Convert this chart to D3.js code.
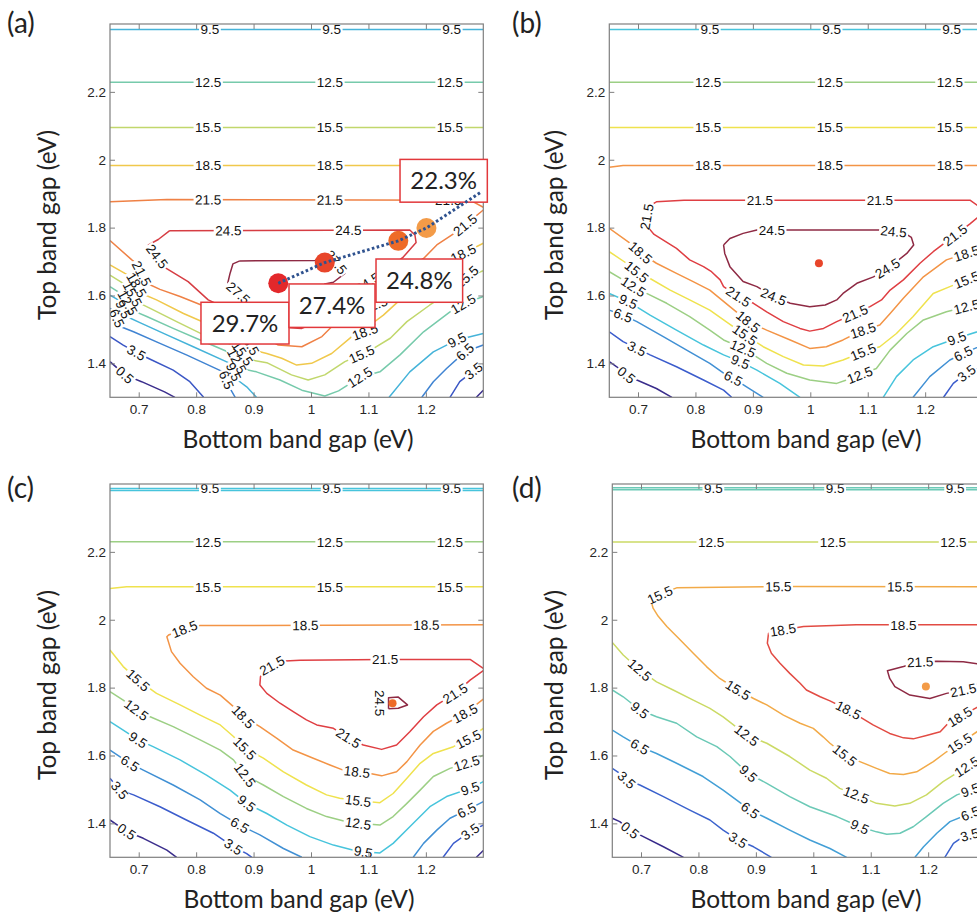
<!DOCTYPE html>
<html>
<head>
<meta charset="utf-8">
<script src="https://cdn.jsdelivr.net/npm/d3@7"></script>
<style>
    body { margin: 0; background: #fff; }
    text { font-family: "Liberation Sans", Arial, sans-serif; }
    .big { font-family: Lato, "Open Sans", sans-serif; }
</style>
</head>
<body>
<svg id="chart" width="977" height="913"></svg>
<script>
// ---- data (eV / %) ----
var xTicks = [0.7, 0.8, 0.9, 1, 1.1, 1.2];
var yTicks = [1.4, 1.6, 1.8, 2, 2.2];

var levelsA = [0.5, 3.5, 6.5, 9.5, 12.5, 15.5, 18.5, 21.5, 24.5, 27.5];
var levelsB = [0.5, 3.5, 6.5, 9.5, 12.5, 15.5, 18.5, 21.5, 24.5];
var levelsC = [0.5, 3.5, 6.5, 9.5, 12.5, 15.5, 18.5, 21.5, 24.5];
var levelsD = [0.5, 3.5, 6.5, 9.5, 12.5, 15.5, 18.5, 21.5];

var contoursA = [
    [9.5, [[0.65, 2.384], [1.30, 2.384]]],
    [12.5, [[0.65, 2.228], [1.30, 2.228]]],
    [15.5, [[0.65, 2.095], [1.30, 2.095]]],
    [18.5, [[0.65, 1.983], [1.30, 1.983]]],
    [21.5, [[0.65, 1.876], [0.749, 1.883], [1.277, 1.881], [1.30, 1.860]]],
    [21.5, [[0.65, 1.762], [0.688, 1.705], [0.696, 1.695], [0.714, 1.636], [0.737, 1.618], [0.772, 1.597], [0.809, 1.572], [0.865, 1.528], [0.900, 1.498], [0.917, 1.479], [0.943, 1.454], [0.984, 1.449], [1.019, 1.479], [1.036, 1.508], [1.074, 1.547], [1.111, 1.572], [1.143, 1.616], [1.172, 1.685], [1.196, 1.709], [1.219, 1.749], [1.254, 1.788], [1.30, 1.852]]],
    [24.5, [[0.754, 1.791], [1.172, 1.793], [1.181, 1.778], [1.183, 1.756], [1.161, 1.714], [1.140, 1.685], [1.114, 1.655], [1.097, 1.636], [1.074, 1.606], [1.039, 1.557], [1.010, 1.520], [0.984, 1.503], [0.963, 1.505], [0.917, 1.523], [0.865, 1.552], [0.821, 1.587], [0.786, 1.641], [0.748, 1.680], [0.717, 1.749], [0.734, 1.765], [0.754, 1.791]]],
    [27.5, [[0.876, 1.702], [1.007, 1.703], [1.024, 1.722], [1.039, 1.709], [1.059, 1.665], [1.039, 1.639], [1.024, 1.634], [1.004, 1.587], [0.984, 1.538], [0.958, 1.533], [0.923, 1.552], [0.890, 1.582], [0.855, 1.636], [0.859, 1.665], [0.864, 1.693], [0.876, 1.702]]],
    [18.5, [[0.65, 1.690], [0.676, 1.665], [0.688, 1.655], [0.705, 1.606], [0.731, 1.587], [0.778, 1.547], [0.824, 1.513], [0.885, 1.484], [0.900, 1.439], [0.923, 1.429], [0.949, 1.415], [0.975, 1.395], [1.001, 1.400], [1.036, 1.429], [1.071, 1.479], [1.094, 1.493], [1.103, 1.513], [1.126, 1.542], [1.155, 1.587], [1.196, 1.641], [1.230, 1.695], [1.265, 1.724], [1.30, 1.754]]],
    [15.5, [[0.65, 1.660], [0.673, 1.636], [0.682, 1.628], [0.696, 1.582], [0.720, 1.562], [0.766, 1.523], [0.813, 1.484], [0.873, 1.449], [0.888, 1.412], [0.923, 1.402], [0.966, 1.366], [0.995, 1.351], [1.024, 1.366], [1.059, 1.405], [1.088, 1.427], [1.109, 1.444], [1.138, 1.474], [1.167, 1.523], [1.207, 1.572], [1.242, 1.611], [1.271, 1.655], [1.30, 1.673]]],
    [12.5, [[0.65, 1.626], [0.667, 1.608], [0.674, 1.600], [0.688, 1.557], [0.714, 1.538], [0.760, 1.503], [0.807, 1.469], [0.865, 1.427], [0.878, 1.385], [0.905, 1.375], [0.946, 1.351], [0.984, 1.321], [1.024, 1.304], [1.048, 1.319], [1.085, 1.359], [1.120, 1.375], [1.155, 1.425], [1.196, 1.493], [1.242, 1.552], [1.265, 1.575], [1.30, 1.597]]],
    [9.5, [[0.65, 1.601], [0.662, 1.589], [0.667, 1.582], [0.679, 1.538], [0.702, 1.520], [0.749, 1.484], [0.795, 1.449], [0.859, 1.400], [0.872, 1.351], [0.888, 1.331], [0.905, 1.300]]],
    [9.5, [[1.136, 1.300], [1.172, 1.375], [1.213, 1.434], [1.254, 1.469], [1.30, 1.488]]],
    [6.5, [[0.65, 1.562], [0.656, 1.555], [0.669, 1.508], [0.691, 1.493], [0.737, 1.459], [0.783, 1.425], [0.847, 1.375], [0.859, 1.326], [0.868, 1.300]]],
    [6.5, [[1.193, 1.300], [1.213, 1.346], [1.236, 1.385], [1.268, 1.434], [1.30, 1.454]]],
    [3.5, [[0.65, 1.479], [0.673, 1.454], [0.696, 1.432], [0.720, 1.412], [0.760, 1.380], [0.789, 1.346], [0.813, 1.300]]],
    [3.5, [[1.242, 1.300], [1.259, 1.346], [1.283, 1.378], [1.30, 1.395]]],
    [0.5, [[0.65, 1.405], [0.676, 1.366], [0.705, 1.346], [0.745, 1.316], [0.763, 1.300]]],
    [0.5, [[1.288, 1.300], [1.30, 1.321]]]
];

var labelsA = [
    [9.5, 0.824, 2.384], [9.5, 1.036, 2.384], [9.5, 1.245, 2.384],
    [12.5, 0.821, 2.228], [12.5, 1.033, 2.228], [12.5, 1.242, 2.228],
    [15.5, 0.821, 2.095], [15.5, 1.033, 2.095], [15.5, 1.242, 2.095],
    [18.5, 0.821, 1.983], [18.5, 1.033, 1.983], [18.5, 1.242, 1.983],
    [21.5, 0.821, 1.883], [21.5, 1.033, 1.883], [21.5, 1.239, 1.881],
    [21.5, 1.268, 1.808], [21.5, 0.705, 1.665], [21.5, 1.111, 1.572],
    [24.5, 0.856, 1.793], [24.5, 1.065, 1.793], [24.5, 0.731, 1.714], [24.5, 1.097, 1.641],
    [27.5, 0.870, 1.601], [27.5, 1.045, 1.700],
    [18.5, 0.696, 1.631], [18.5, 0.893, 1.461], [18.5, 1.094, 1.493], [18.5, 1.265, 1.724],
    [15.5, 0.689, 1.604], [15.5, 0.881, 1.430], [15.5, 1.088, 1.427], [15.5, 1.271, 1.655],
    [12.5, 0.681, 1.579], [12.5, 0.871, 1.407], [12.5, 1.085, 1.359], [12.5, 1.265, 1.575],
    [9.5, 0.673, 1.559], [9.5, 0.865, 1.375], [9.5, 1.254, 1.469],
    [6.5, 0.661, 1.532], [6.5, 0.853, 1.351], [6.5, 1.268, 1.434],
    [3.5, 0.696, 1.432], [3.5, 1.283, 1.378],
    [0.5, 0.676, 1.366]
];

var contoursB = [
    [9.5, [[0.65, 2.384], [1.30, 2.384]]],
    [12.5, [[0.65, 2.228], [1.30, 2.228]]],
    [15.5, [[0.65, 2.095], [1.30, 2.095]]],
    [18.5, [[0.65, 1.978], [0.674, 1.983], [1.30, 1.983]]],
    [21.5, [[1.30, 1.855], [1.278, 1.881], [1.0, 1.881], [0.78, 1.881], [0.732, 1.876], [0.718, 1.862], [0.715, 1.832], [0.718, 1.80], [0.728, 1.78], [0.744, 1.763], [0.767, 1.739], [0.790, 1.705], [0.814, 1.685], [0.828, 1.670], [0.843, 1.646], [0.849, 1.626], [0.875, 1.597], [0.901, 1.577], [0.924, 1.552], [0.953, 1.523], [0.982, 1.503], [0.999, 1.495], [1.023, 1.503], [1.046, 1.523], [1.078, 1.547], [1.104, 1.567], [1.124, 1.587], [1.139, 1.616], [1.162, 1.646], [1.191, 1.695], [1.214, 1.729], [1.252, 1.778], [1.278, 1.811], [1.30, 1.842]]],
    [24.5, [[0.849, 1.749], [0.860, 1.768], [0.883, 1.783], [0.907, 1.793], [1.121, 1.793], [1.162, 1.786], [1.176, 1.771], [1.180, 1.749], [1.168, 1.724], [1.139, 1.685], [1.110, 1.655], [1.081, 1.636], [1.057, 1.606], [1.046, 1.587], [1.026, 1.572], [0.999, 1.567], [0.965, 1.577], [0.936, 1.597], [0.907, 1.626], [0.883, 1.641], [0.860, 1.685], [0.851, 1.724], [0.849, 1.749]]],
    [18.5, [[0.65, 1.798], [0.686, 1.754], [0.706, 1.724], [0.732, 1.695], [0.767, 1.665], [0.796, 1.641], [0.825, 1.616], [0.860, 1.567], [0.892, 1.523], [0.924, 1.498], [0.965, 1.469], [0.999, 1.444], [1.028, 1.449], [1.057, 1.469], [1.089, 1.496], [1.121, 1.513], [1.139, 1.547], [1.162, 1.592], [1.197, 1.655], [1.237, 1.705], [1.272, 1.724], [1.30, 1.749]]],
    [15.5, [[0.65, 1.729], [0.680, 1.695], [0.698, 1.670], [0.721, 1.650], [0.756, 1.616], [0.790, 1.587], [0.825, 1.557], [0.849, 1.528], [0.886, 1.484], [0.918, 1.449], [0.953, 1.420], [0.988, 1.395], [1.023, 1.392], [1.057, 1.410], [1.092, 1.434], [1.121, 1.449], [1.150, 1.488], [1.179, 1.538], [1.214, 1.606], [1.243, 1.626], [1.272, 1.646], [1.30, 1.673]]],
    [12.5, [[0.65, 1.670], [0.674, 1.646], [0.692, 1.626], [0.715, 1.606], [0.750, 1.577], [0.790, 1.538], [0.825, 1.498], [0.849, 1.469], [0.883, 1.444], [0.924, 1.400], [0.959, 1.371], [0.999, 1.351], [1.046, 1.341], [1.063, 1.351], [1.086, 1.366], [1.115, 1.385], [1.139, 1.439], [1.168, 1.488], [1.197, 1.528], [1.237, 1.552], [1.272, 1.567], [1.30, 1.592]]],
    [9.5, [[0.65, 1.606], [0.683, 1.582], [0.721, 1.542], [0.767, 1.498], [0.814, 1.454], [0.849, 1.425], [0.878, 1.405], [0.907, 1.380], [0.947, 1.341], [0.982, 1.300]]],
    [9.5, [[1.127, 1.300], [1.150, 1.361], [1.179, 1.410], [1.214, 1.449], [1.255, 1.474], [1.30, 1.498]]],
    [6.5, [[0.65, 1.557], [0.674, 1.542], [0.698, 1.523], [0.744, 1.479], [0.790, 1.434], [0.825, 1.400], [0.849, 1.371], [0.866, 1.356], [0.889, 1.331], [0.918, 1.300]]],
    [6.5, [[1.179, 1.300], [1.208, 1.361], [1.243, 1.410], [1.266, 1.429], [1.30, 1.454]]],
    [3.5, [[0.65, 1.493], [0.674, 1.464], [0.698, 1.444], [0.721, 1.425], [0.767, 1.390], [0.814, 1.351], [0.849, 1.321], [0.863, 1.300]]],
    [3.5, [[1.232, 1.300], [1.249, 1.341], [1.272, 1.371], [1.30, 1.390]]],
    [0.5, [[0.65, 1.405], [0.663, 1.390], [0.680, 1.366], [0.698, 1.351], [0.732, 1.326], [0.759, 1.300]]]
];

var labelsB = [
    [9.5, 0.825, 2.384], [9.5, 1.037, 2.384], [9.5, 1.246, 2.384],
    [12.5, 0.822, 2.228], [12.5, 1.034, 2.228], [12.5, 1.243, 2.228],
    [15.5, 0.822, 2.095], [15.5, 1.034, 2.095], [15.5, 1.243, 2.095],
    [18.5, 0.822, 1.983], [18.5, 1.034, 1.983], [18.5, 1.243, 1.983],
    [21.5, 0.912, 1.881], [21.5, 1.121, 1.881], [21.5, 0.715, 1.832],
    [24.5, 0.933, 1.791], [24.5, 1.145, 1.786], [24.5, 1.136, 1.675], [24.5, 0.936, 1.597],
    [18.5, 0.703, 1.724], [15.5, 0.698, 1.670], [12.5, 0.692, 1.626], [9.5, 0.683, 1.582], [6.5, 0.674, 1.542], [3.5, 0.698, 1.444], [0.5, 0.680, 1.366],
    [21.5, 0.875, 1.597], [18.5, 0.892, 1.523], [15.5, 0.886, 1.484], [12.5, 0.883, 1.444], [9.5, 0.878, 1.405], [6.5, 0.866, 1.356],
    [21.5, 1.078, 1.547], [18.5, 1.092, 1.496], [15.5, 1.092, 1.434], [12.5, 1.086, 1.366],
    [21.5, 1.252, 1.778], [18.5, 1.272, 1.724], [15.5, 1.272, 1.646], [12.5, 1.272, 1.567], [9.5, 1.255, 1.474], [6.5, 1.266, 1.429], [3.5, 1.272, 1.371]
];

var contoursC = [
    [9.5, [[0.65, 2.387], [1.30, 2.387]]],
    [9.5, [[0.65, 2.381], [1.30, 2.381]]],
    [12.5, [[0.65, 2.230], [1.30, 2.230]]],
    [15.5, [[0.65, 2.092], [0.679, 2.097], [1.30, 2.097]]],
    [18.5, [[1.30, 1.985], [0.807, 1.983], [0.783, 1.975], [0.752, 1.955], [0.749, 1.950], [0.757, 1.906], [0.772, 1.872], [0.795, 1.832], [0.818, 1.798], [0.842, 1.778], [0.865, 1.744], [0.882, 1.714], [0.911, 1.685], [0.940, 1.651], [0.969, 1.616], [1.004, 1.592], [1.033, 1.572], [1.056, 1.557], [1.080, 1.552], [1.103, 1.547], [1.123, 1.540], [1.149, 1.552], [1.167, 1.582], [1.190, 1.631], [1.213, 1.671], [1.236, 1.695], [1.268, 1.724], [1.30, 1.766]]],
    [21.5, [[1.30, 1.857], [1.277, 1.883], [1.126, 1.883], [0.981, 1.881], [0.946, 1.878], [0.923, 1.857], [0.912, 1.832], [0.911, 1.808], [0.923, 1.783], [0.946, 1.754], [0.969, 1.729], [0.992, 1.705], [1.010, 1.690], [1.039, 1.680], [1.065, 1.652], [1.091, 1.631], [1.123, 1.618], [1.149, 1.631], [1.172, 1.670], [1.196, 1.714], [1.219, 1.749], [1.251, 1.783], [1.277, 1.822], [1.30, 1.850]]],
    [24.5, [[1.135, 1.738], [1.135, 1.770], [1.152, 1.772], [1.168, 1.749], [1.152, 1.739], [1.135, 1.738]]],
    [15.5, [[0.65, 1.911], [0.673, 1.862], [0.699, 1.822], [0.731, 1.783], [0.772, 1.749], [0.807, 1.719], [0.842, 1.690], [0.865, 1.656], [0.885, 1.621], [0.917, 1.592], [0.952, 1.552], [0.992, 1.513], [1.027, 1.484], [1.050, 1.474], [1.082, 1.467], [1.120, 1.461], [1.143, 1.488], [1.167, 1.533], [1.190, 1.577], [1.213, 1.606], [1.248, 1.626], [1.274, 1.648], [1.30, 1.680]]],
    [12.5, [[0.65, 1.788], [0.673, 1.763], [0.696, 1.734], [0.720, 1.714], [0.760, 1.685], [0.807, 1.646], [0.842, 1.616], [0.865, 1.587], [0.885, 1.542], [0.917, 1.513], [0.952, 1.479], [0.992, 1.444], [1.027, 1.420], [1.062, 1.405], [1.082, 1.400], [1.120, 1.395], [1.143, 1.420], [1.167, 1.459], [1.190, 1.498], [1.213, 1.538], [1.242, 1.562], [1.271, 1.577], [1.30, 1.601]]],
    [9.5, [[0.65, 1.700], [0.673, 1.675], [0.699, 1.646], [0.725, 1.626], [0.772, 1.587], [0.818, 1.542], [0.859, 1.498], [0.888, 1.459], [0.923, 1.429], [0.958, 1.395], [0.998, 1.361], [1.039, 1.336], [1.074, 1.321], [1.091, 1.316], [1.120, 1.313], [1.143, 1.341], [1.172, 1.390], [1.207, 1.449], [1.236, 1.479], [1.277, 1.503], [1.30, 1.523]]],
    [6.5, [[0.65, 1.616], [0.667, 1.597], [0.685, 1.577], [0.708, 1.557], [0.760, 1.513], [0.807, 1.469], [0.842, 1.429], [0.876, 1.395], [0.911, 1.366], [0.952, 1.326], [0.984, 1.300]]],
    [6.5, [[1.178, 1.300], [1.196, 1.341], [1.219, 1.380], [1.242, 1.415], [1.271, 1.439], [1.30, 1.464]]],
    [3.5, [[0.65, 1.533], [0.667, 1.498], [0.691, 1.484], [0.737, 1.449], [0.783, 1.410], [0.830, 1.371], [0.865, 1.331], [0.888, 1.311], [0.897, 1.300]]],
    [3.5, [[1.230, 1.300], [1.248, 1.341], [1.277, 1.376], [1.30, 1.395]]],
    [0.5, [[0.65, 1.410], [0.679, 1.376], [0.708, 1.356], [0.749, 1.321], [0.766, 1.300]]],
    [0.5, [[1.288, 1.300], [1.30, 1.320]]]
];

var labelsC = [
    [9.5, 0.824, 2.384], [9.5, 1.036, 2.384], [9.5, 1.245, 2.384],
    [12.5, 0.821, 2.230], [12.5, 1.033, 2.230], [12.5, 1.242, 2.230],
    [15.5, 0.821, 2.097], [15.5, 1.033, 2.097], [15.5, 1.242, 2.097],
    [18.5, 0.990, 1.984], [18.5, 1.201, 1.985], [18.5, 0.781, 1.968],
    [21.5, 1.129, 1.883], [21.5, 0.932, 1.865], [21.5, 1.065, 1.652], [21.5, 1.251, 1.783],
    [24.5, 1.120, 1.754],
    [15.5, 0.699, 1.822], [12.5, 0.696, 1.734], [9.5, 0.699, 1.646], [6.5, 0.685, 1.577], [3.5, 0.667, 1.498], [0.5, 0.679, 1.376],
    [18.5, 0.882, 1.714], [15.5, 0.885, 1.621], [12.5, 0.885, 1.542], [9.5, 0.888, 1.459], [6.5, 0.876, 1.395], [3.5, 0.865, 1.331],
    [18.5, 1.080, 1.552], [15.5, 1.082, 1.467], [12.5, 1.082, 1.400], [9.5, 1.091, 1.316],
    [18.5, 1.268, 1.724], [15.5, 1.274, 1.648], [12.5, 1.271, 1.577], [9.5, 1.277, 1.503], [6.5, 1.271, 1.439], [3.5, 1.277, 1.376]
];

var contoursD = [
    [9.5, [[0.65, 2.389], [1.30, 2.389]]],
    [9.5, [[0.65, 2.383], [1.30, 2.383]]],
    [12.5, [[0.65, 2.229], [1.30, 2.229]]],
    [15.5, [[1.30, 2.097], [0.942, 2.098], [0.762, 2.094], [0.750, 2.086], [0.733, 2.073], [0.718, 2.053], [0.721, 2.034], [0.730, 2.010], [0.745, 1.980], [0.768, 1.941], [0.791, 1.901], [0.814, 1.862], [0.837, 1.827], [0.869, 1.793], [0.896, 1.768], [0.919, 1.749], [0.948, 1.719], [0.977, 1.695], [1.000, 1.680], [1.017, 1.655], [1.029, 1.636], [1.055, 1.601], [1.081, 1.582], [1.110, 1.562], [1.133, 1.547], [1.157, 1.544], [1.180, 1.552], [1.209, 1.582], [1.232, 1.611], [1.255, 1.636], [1.285, 1.670], [1.30, 1.685]]],
    [18.5, [[1.30, 1.985], [1.075, 1.985], [0.983, 1.980], [0.947, 1.970], [0.922, 1.960], [0.920, 1.931], [0.927, 1.901], [0.942, 1.872], [0.959, 1.842], [0.977, 1.813], [0.988, 1.793], [1.012, 1.773], [1.029, 1.761], [1.061, 1.734], [1.081, 1.714], [1.104, 1.690], [1.133, 1.665], [1.157, 1.652], [1.174, 1.649], [1.197, 1.659], [1.221, 1.670], [1.232, 1.690], [1.255, 1.714], [1.285, 1.742], [1.30, 1.755]]],
    [21.5, [[1.30, 1.867], [1.261, 1.876], [1.215, 1.878], [1.186, 1.876], [1.157, 1.862], [1.129, 1.850], [1.133, 1.827], [1.142, 1.803], [1.168, 1.778], [1.203, 1.768], [1.232, 1.783], [1.261, 1.793], [1.30, 1.820]]],
    [12.5, [[0.65, 1.933], [0.669, 1.896], [0.698, 1.852], [0.727, 1.817], [0.756, 1.793], [0.791, 1.763], [0.820, 1.739], [0.843, 1.714], [0.884, 1.660], [0.919, 1.636], [0.959, 1.597], [0.994, 1.557], [1.023, 1.533], [1.046, 1.503], [1.075, 1.484], [1.110, 1.459], [1.142, 1.451], [1.168, 1.459], [1.197, 1.484], [1.226, 1.523], [1.244, 1.542], [1.267, 1.567], [1.30, 1.592]]],
    [9.5, [[0.65, 1.793], [0.669, 1.773], [0.698, 1.734], [0.727, 1.714], [0.762, 1.695], [0.797, 1.655], [0.832, 1.626], [0.855, 1.597], [0.887, 1.547], [0.919, 1.518], [0.959, 1.479], [0.994, 1.449], [1.041, 1.420], [1.081, 1.390], [1.110, 1.375], [1.128, 1.368], [1.151, 1.371], [1.174, 1.390], [1.197, 1.420], [1.226, 1.459], [1.250, 1.484], [1.273, 1.498], [1.30, 1.518]]],
    [6.5, [[0.65, 1.675], [0.669, 1.655], [0.698, 1.626], [0.727, 1.606], [0.762, 1.577], [0.808, 1.538], [0.843, 1.498], [0.866, 1.469], [0.890, 1.439], [0.919, 1.415], [0.959, 1.380], [0.994, 1.351], [1.029, 1.326], [1.058, 1.300]]],
    [6.5, [[1.177, 1.300], [1.192, 1.331], [1.215, 1.371], [1.238, 1.405], [1.273, 1.429], [1.30, 1.449]]],
    [3.5, [[0.65, 1.562], [0.663, 1.547], [0.675, 1.528], [0.698, 1.513], [0.739, 1.479], [0.785, 1.439], [0.820, 1.410], [0.843, 1.380], [0.869, 1.351], [0.896, 1.331], [0.927, 1.300]]],
    [3.5, [[1.229, 1.300], [1.244, 1.341], [1.261, 1.361], [1.30, 1.380]]],
    [0.5, [[0.65, 1.415], [0.663, 1.405], [0.681, 1.380], [0.698, 1.366], [0.739, 1.331], [0.774, 1.300]]]
];

var labelsD = [
    [9.5, 0.826, 2.386], [9.5, 1.038, 2.386], [9.5, 1.247, 2.386],
    [12.5, 0.822, 2.229], [12.5, 1.034, 2.229], [12.5, 1.244, 2.229],
    [15.5, 0.939, 2.098], [15.5, 1.151, 2.097], [15.5, 0.733, 2.073],
    [18.5, 1.157, 1.985], [18.5, 0.947, 1.970],
    [21.5, 1.186, 1.876], [21.5, 1.261, 1.793],
    [12.5, 0.698, 1.852], [9.5, 0.698, 1.734], [6.5, 0.698, 1.626], [3.5, 0.675, 1.528], [0.5, 0.681, 1.380],
    [15.5, 0.869, 1.793], [12.5, 0.884, 1.660], [9.5, 0.887, 1.547], [6.5, 0.890, 1.439], [3.5, 0.869, 1.351],
    [18.5, 1.061, 1.734], [15.5, 1.055, 1.601], [12.5, 1.075, 1.484], [9.5, 1.081, 1.390],
    [18.5, 1.255, 1.714], [15.5, 1.255, 1.636], [12.5, 1.267, 1.567], [9.5, 1.273, 1.498], [6.5, 1.273, 1.429], [3.5, 1.273, 1.361]
];

// current-matched optimum points (bottom gap, top gap) and their efficiencies
var optimaA = [[0.943, 1.636], [1.024, 1.697], [1.152, 1.761], [1.201, 1.799]];
var trendA = [[0.943, 1.636], [1.024, 1.697], [1.152, 1.761], [1.201, 1.799], [1.297, 1.906]];
var calloutsA = [
    ["29.7%", 0.8084, 1.580, 0.9617, 1.457],
    ["27.4%", 0.9617, 1.634, 1.1114, 1.506],
    ["24.8%", 1.1132, 1.7075, 1.264, 1.580],
    ["22.3%", 1.155, 2.001, 1.307, 1.875]
];
var optimumB = [1.015, 1.695];
var optimumC = [1.142, 1.754];
var optimumD = [1.196, 1.803];

// ---- drawing ----
var markerColors = ["#e3282b", "#e8452a", "#ee6b27", "#f39b48"];
var size = 373.3;
var svg = d3.select("#chart");

// muted jet-like colour map, as the thin contour lines appear
var cmap = d3.scaleLinear()
        .domain([0, 0.125, 0.375, 0.5, 0.625, 0.75, 0.875, 1])
        .range(["#3a2d8c", "#3b5ccc", "#47c4dc", "#9ccf84", "#efe24e", "#f39446", "#df3f43", "#8e2a44"]);

function levelColor(lv, lvls) {
    var t = (lv - lvls[0]) / (lvls[lvls.length - 1] - lvls[0]);
    return cmap(t);
}

var x = d3.scaleLinear().domain([0.65, 1.3]).range([0, size]);
var y = d3.scaleLinear().domain([1.3, 2.4]).range([size, 0]);

var panels = [
    {id: "a", left: 110, top: 24, contours: contoursA, labels: labelsA, levels: levelsA,
        tag: "(a)", tagX: 7, tagY: 33, xtX: 298, xtY: 448, ytX: 56, ytY: 225},
    {id: "b", left: 609.3, top: 24, contours: contoursB, labels: labelsB, levels: levelsB,
        tag: "(b)", tagX: 512, tagY: 33, xtX: 806, xtY: 448, ytX: 563, ytY: 225, dot: optimumB, dotColor: markerColors[1]},
    {id: "c", left: 110, top: 484, contours: contoursC, labels: labelsC, levels: levelsC,
        tag: "(c)", tagX: 7, tagY: 498, xtX: 299, xtY: 908, ytX: 56, ytY: 685, dot: optimumC, dotColor: markerColors[2]},
    {id: "d", left: 612.3, top: 484, contours: contoursD, labels: labelsD, levels: levelsD,
        tag: "(d)", tagX: 512, tagY: 498, xtX: 806, xtY: 908, ytX: 563, ytY: 685, dot: optimumD, dotColor: markerColors[3]}
];

var fmt = d3.format(".1f");

panels.forEach(function (p) {
    svg.append("text").attr("class", "big")
            .attr("x", p.tagX).attr("y", p.tagY)
            .attr("font-size", 28).attr("fill", "#222")
            .text(p.tag);
    svg.append("text").attr("class", "big")
            .attr("x", p.xtX).attr("y", p.xtY)
            .attr("text-anchor", "middle")
            .attr("font-size", 24.5).attr("fill", "#222")
            .text("Bottom band gap (eV)");
    svg.append("text").attr("class", "big")
            .attr("transform", "translate(" + p.ytX + "," + p.ytY + ") rotate(-90)")
            .attr("text-anchor", "middle")
            .attr("font-size", 24.5).attr("fill", "#222")
            .text("Top band gap (eV)");

    var g = svg.append("g").attr("transform", "translate(" + p.left + "," + p.top + ")");
    g.append("defs").append("clipPath").attr("id", "clip-" + p.id)
            .append("rect").attr("width", size).attr("height", size);

    var linesG = g.append("g").attr("clip-path", "url(#clip-" + p.id + ")");
    var gapsG = g.append("g").attr("clip-path", "url(#clip-" + p.id + ")");
    var labelsG = g.append("g").attr("clip-path", "url(#clip-" + p.id + ")");

    var polys = p.contours.map(function (c) {
        return {level: c[0], pts: c[1].map(function (d) {
                return [x(d[0]), y(d[1])];
            })};
    });

    polys.forEach(function (pl) {
        linesG.append("path")
                .attr("d", d3.line()(pl.pts))
                .attr("fill", "none")
                .attr("stroke", levelColor(pl.level, p.levels))
                .attr("stroke-width", 1.5)
                .attr("stroke-linejoin", "round");
    });

    // place labels on their contour, oriented along it
    var placed = p.labels.map(function (l) {
        var px = x(l[1]), py = y(l[2]);
        var best = {dist: Infinity, qx: px, qy: py, ang: 0};
        polys.forEach(function (pl) {
            if (pl.level !== l[0])
                return;
            for (var i = 0; i < pl.pts.length - 1; i++) {
                var a = pl.pts[i], b = pl.pts[i + 1];
                var dx = b[0] - a[0], dy = b[1] - a[1];
                var len2 = dx * dx + dy * dy;
                var t = len2 ? Math.max(0, Math.min(1, ((px - a[0]) * dx + (py - a[1]) * dy) / len2)) : 0;
                var qx = a[0] + t * dx, qy = a[1] + t * dy;
                var dd = Math.hypot(px - qx, py - qy);
                if (dd < best.dist)
                    best = {dist: dd, qx: qx, qy: qy, ang: Math.atan2(dy, dx) * 180 / Math.PI};
            }
        });
        var ang = best.ang;
        if (ang > 90)
            ang -= 180;
        if (ang <= -90)
            ang += 180;
        var snap = best.dist < 6;
        return {level: l[0], x: snap ? best.qx : px, y: snap ? best.qy : py, ang: ang};
    });

    placed.forEach(function (d) {
        var t = labelsG.append("text")
                .attr("transform", "translate(" + d.x + "," + d.y + ") rotate(" + d.ang + ")")
                .attr("text-anchor", "middle")
                .attr("dy", "0.36em")
                .attr("font-size", 13.5)
                .attr("fill", "#111")
                .text(fmt(d.level));
        var w = t.node().getComputedTextLength();
        // inline gap in the contour under the label
        gapsG.append("rect")
                .attr("transform", "translate(" + d.x + "," + d.y + ") rotate(" + d.ang + ")")
                .attr("x", -w / 2 - 1.5).attr("y", -5)
                .attr("width", w + 3).attr("height", 10)
                .attr("fill", "#fff");
    });

    // axes: ticks inside on all four sides
    var tickCol = "#7f7f7f";
    function style(sel) {
        sel.select(".domain").remove();
        sel.selectAll(".tick line").attr("stroke", tickCol);
        sel.selectAll(".tick text").attr("fill", "#262626")
                .attr("font-size", 13.5)
                .attr("font-family", "'Liberation Sans', Arial, sans-serif");
    }
    g.append("g").attr("transform", "translate(0," + size + ")")
            .call(d3.axisBottom(x).tickValues(xTicks).tickSizeInner(-5).tickSizeOuter(0).tickPadding(7).tickFormat(String))
            .call(style);
    g.append("g")
            .call(d3.axisTop(x).tickValues(xTicks).tickSizeInner(-5).tickSizeOuter(0).tickFormat(""))
            .call(style);
    g.append("g")
            .call(d3.axisLeft(y).tickValues(yTicks).tickSizeInner(-5).tickSizeOuter(0).tickPadding(4).tickFormat(String))
            .call(style);
    g.append("g").attr("transform", "translate(" + size + ",0)")
            .call(d3.axisRight(y).tickValues(yTicks).tickSizeInner(-5).tickSizeOuter(0).tickFormat(""))
            .call(style);
    g.append("rect").attr("width", size).attr("height", size)
            .attr("fill", "none").attr("stroke", tickCol).attr("stroke-width", 1.2);

    if (p.dot) {
        g.append("circle")
                .attr("cx", x(p.dot[0])).attr("cy", y(p.dot[1]))
                .attr("r", 4).attr("fill", p.dotColor);
    }

    if (p.id === "a") {
        var box = g.append("g").selectAll("g").data(calloutsA).enter().append("g");
        box.append("rect")
                .attr("x", function (d) { return x(d[1]); })
                .attr("y", function (d) { return y(d[2]); })
                .attr("width", function (d) { return x(d[3]) - x(d[1]); })
                .attr("height", function (d) { return y(d[4]) - y(d[2]); })
                .attr("fill", "#fff")
                .attr("stroke", "#e2383b")
                .attr("stroke-width", 1.5);
        box.append("text").attr("class", "big")
                .attr("x", function (d) { return (x(d[1]) + x(d[3])) / 2; })
                .attr("y", function (d) { return (y(d[2]) + y(d[4])) / 2; })
                .attr("dy", "0.36em")
                .attr("text-anchor", "middle")
                .attr("font-size", 24)
                .attr("fill", "#222")
                .text(function (d) { return d[0]; });

        g.append("g").selectAll("circle").data(optimaA).enter().append("circle")
                .attr("cx", function (d) { return x(d[0]); })
                .attr("cy", function (d) { return y(d[1]); })
                .attr("r", 10)
                .attr("fill", function (d, i) { return markerColors[i]; });

        g.append("path")
                .datum(trendA)
                .attr("fill", "none")
                .attr("stroke", "#2f528f")
                .attr("stroke-width", 3)
                .attr("stroke-dasharray", "2.6,2.4")
                .attr("d", d3.line().x(function (d) { return x(d[0]); }).y(function (d) { return y(d[1]); }));
    }
});
</script>
</body>
</html>
